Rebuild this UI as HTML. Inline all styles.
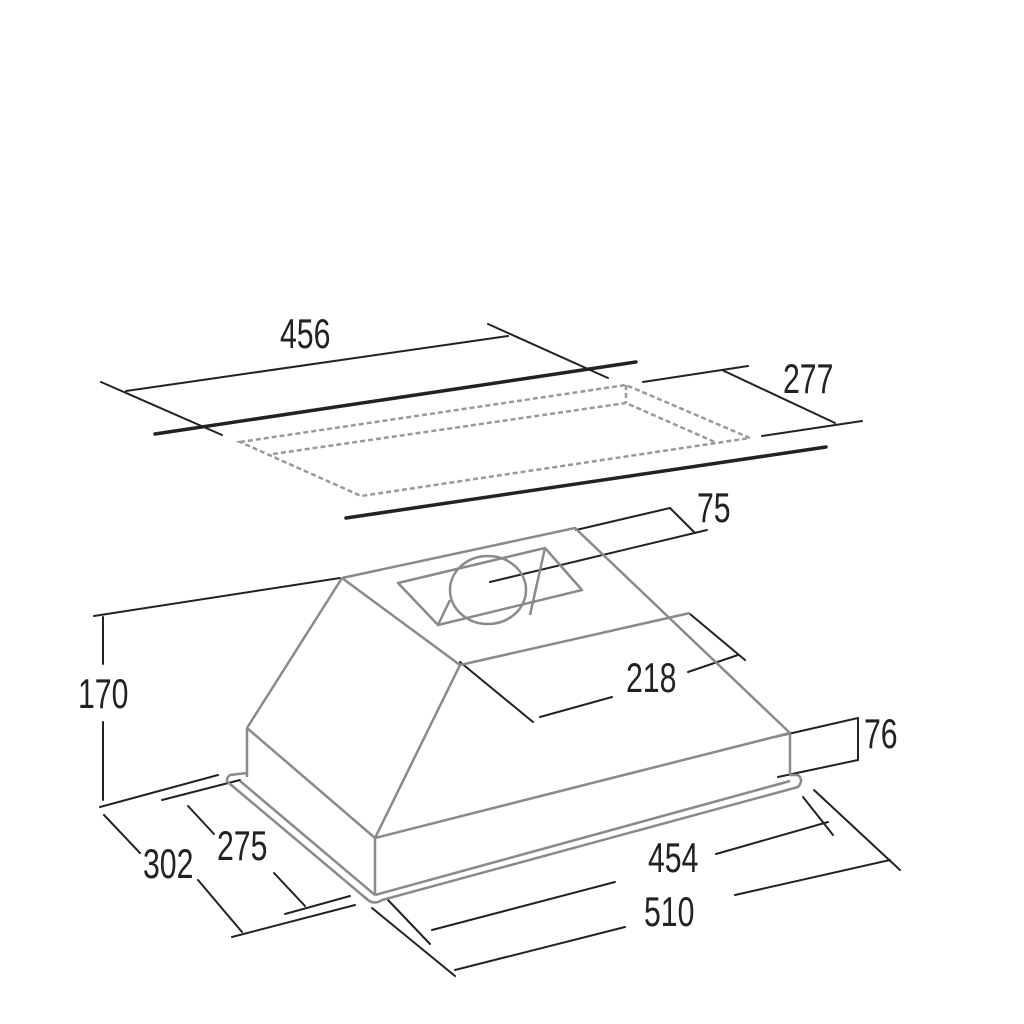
<!DOCTYPE html>
<html><head><meta charset="utf-8"><style>
html,body{margin:0;padding:0;background:#fff;}
svg{display:block;}
text{font-family:"Liberation Sans",sans-serif;font-size:42px;fill:#222;}
</style></head><body>
<svg width="1024" height="1024" viewBox="0 0 1024 1024" xmlns="http://www.w3.org/2000/svg">
<g stroke="#222" stroke-width="2" fill="none" stroke-linecap="round">
<!-- top section -->
<line x1="126" y1="391" x2="508" y2="336"/>
<line x1="101" y1="382" x2="222" y2="435"/>
<line x1="488" y1="324" x2="608" y2="378"/>
<line x1="155" y1="434" x2="636" y2="362" stroke-width="3.5"/>
<line x1="643" y1="382" x2="748" y2="366"/>
<line x1="762" y1="436" x2="862" y2="421"/>
<line x1="722" y1="370" x2="835" y2="423"/>
<line x1="346" y1="518" x2="826" y2="447" stroke-width="3.5"/>
<!-- 75 -->
<line x1="576" y1="530" x2="670" y2="508"/>
<line x1="670" y1="508" x2="695" y2="533"/>
<line x1="490" y1="582" x2="707" y2="530"/>
<!-- 170 -->
<line x1="94" y1="616" x2="340" y2="578"/>
<line x1="103" y1="617" x2="103" y2="664"/>
<line x1="103" y1="722" x2="103" y2="800"/>
<line x1="100" y1="807" x2="218" y2="775"/>
<!-- 302 / 275 -->
<line x1="104" y1="815" x2="140" y2="853"/>
<line x1="198" y1="880" x2="242" y2="932"/>
<line x1="232" y1="937" x2="355" y2="905"/>
<line x1="162" y1="800" x2="240" y2="780"/>
<line x1="188" y1="806" x2="214" y2="834"/>
<line x1="274" y1="873" x2="305" y2="906"/>
<line x1="285" y1="914" x2="350" y2="896"/>
<!-- 218 -->
<line x1="460" y1="662" x2="533" y2="722"/>
<line x1="690" y1="614" x2="745" y2="660"/>
<line x1="540" y1="717" x2="612" y2="697"/>
<line x1="688" y1="672" x2="738" y2="655"/>
<!-- 76 -->
<line x1="775" y1="737" x2="858" y2="718"/>
<line x1="858" y1="718" x2="858" y2="760"/>
<line x1="778" y1="777" x2="858" y2="760"/>
<!-- 454 / 510 -->
<line x1="803" y1="797" x2="833" y2="835"/>
<line x1="814" y1="790" x2="900" y2="870"/>
<line x1="388" y1="900" x2="430" y2="944"/>
<line x1="372" y1="908" x2="455" y2="976"/>
<line x1="432" y1="930" x2="615" y2="882"/>
<line x1="716" y1="854" x2="828" y2="822"/>
<line x1="455" y1="970" x2="625" y2="927"/>
<line x1="735" y1="895" x2="890" y2="860"/>
</g>
<g stroke="#999" stroke-width="2.5" fill="none" stroke-dasharray="5,3">
<polygon points="240,442 626,385 750,438 361,496"/>
<polyline points="273,454 626,403 717,443"/>
<line x1="626" y1="385" x2="626" y2="403"/>
</g>
<g stroke="#8a8a8a" stroke-width="2.5" fill="none" stroke-linejoin="round">
<polyline points="342,578 575,528 790,733"/>
<line x1="342" y1="578" x2="247" y2="728"/>
<line x1="342" y1="578" x2="460" y2="665"/>
<line x1="460" y1="665" x2="690" y2="613"/>
<line x1="460" y1="665" x2="375" y2="838"/>
<line x1="247" y1="728" x2="375" y2="838"/>
<line x1="247" y1="728" x2="247" y2="777"/>
<line x1="375" y1="838" x2="375" y2="895"/>
<line x1="375" y1="838" x2="790" y2="733"/>
<line x1="790" y1="733" x2="790" y2="775"/>
<polygon points="398,583 545,548 582,590 438,625"/>
<ellipse cx="488" cy="590" rx="38" ry="34"/>
<line x1="545" y1="548" x2="530" y2="615"/>
<line x1="438" y1="625" x2="450" y2="600"/>
<path d="M247,773 L230,775 Q224,780 230,784 L368,900 Q374,905 382,900 L798,787 Q804,780 798,775 L790,775"/>
<line x1="240" y1="781" x2="375" y2="895"/>
<line x1="375" y1="895" x2="790" y2="781"/>
</g>
<g>
<text transform="translate(280,348) scale(0.72,1)">456</text>
<text transform="translate(783,393) scale(0.72,1)">277</text>
<text transform="translate(697,522) scale(0.72,1)">75</text>
<text transform="translate(78,708) scale(0.72,1)">170</text>
<text transform="translate(626,692) scale(0.72,1)">218</text>
<text transform="translate(864,748) scale(0.72,1)">76</text>
<text transform="translate(217,860) scale(0.72,1)">275</text>
<text transform="translate(143,878) scale(0.72,1)">302</text>
<text transform="translate(648,872) scale(0.72,1)">454</text>
<text transform="translate(644,926) scale(0.72,1)">510</text>
</g>
</svg>
</body></html>
